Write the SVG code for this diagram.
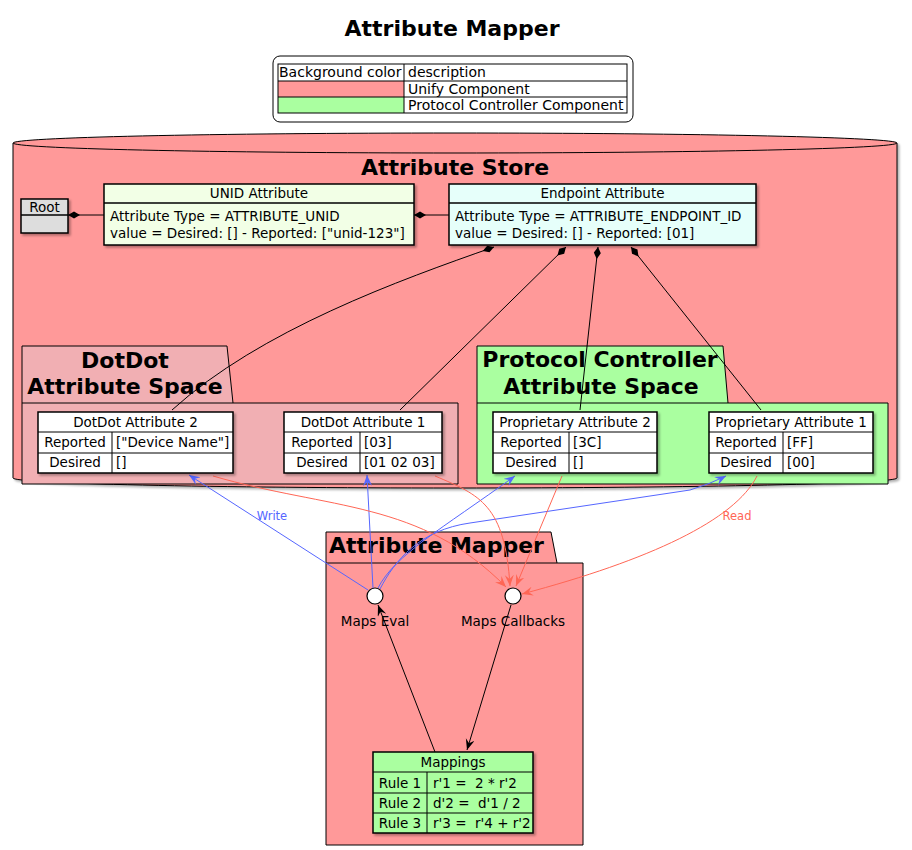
<svg xmlns="http://www.w3.org/2000/svg" width="912" height="850" viewBox="0 0 912 850">
<style>
text{font-family:"DejaVu Sans","Liberation Sans",sans-serif;fill:#000;white-space:pre}
.t{font-size:22px;font-weight:bold}
.n{font-size:13.5px}
.l{font-size:14px}
.c{text-anchor:middle}
.s{font-size:11.5px}
.ln{stroke:#000;stroke-width:1;fill:none}
.blue{stroke:#5566FF;stroke-width:1;fill:none}
.red{stroke:#FF6655;stroke-width:1;fill:none}
.blk{stroke:#000;stroke-width:1;fill:none}
</style>
<defs>
<filter id="sh" x="-5%" y="-5%" width="115%" height="120%">
<feDropShadow dx="2" dy="2" stdDeviation="1.2" flood-color="#000" flood-opacity="0.3"/>
</filter>
<marker id="dia" markerUnits="userSpaceOnUse" markerWidth="14" markerHeight="10" refX="0" refY="4" orient="auto">
<path d="M0,4 L6,0.5 L12,4 L6,7.5 Z" fill="#000"/>
</marker>
<marker id="ab" markerUnits="userSpaceOnUse" markerWidth="13" markerHeight="10" refX="11" refY="4.5" orient="auto">
<path d="M0,0 L11,4.5 L0,9 L4,4.5 Z" fill="#5566FF"/>
</marker>
<marker id="ar" markerUnits="userSpaceOnUse" markerWidth="13" markerHeight="10" refX="11" refY="4.5" orient="auto">
<path d="M0,0 L11,4.5 L0,9 L4,4.5 Z" fill="#FF6655"/>
</marker>
<marker id="ak" markerUnits="userSpaceOnUse" markerWidth="13" markerHeight="10" refX="11" refY="4.5" orient="auto">
<path d="M0,0 L11,4.5 L0,9 L4,4.5 Z" fill="#000"/>
</marker>
</defs>
<rect width="912" height="850" fill="#fff"/>

<text class="t c" x="452" y="36">Attribute Mapper</text>

<g id="legend">
<rect x="273" y="56" width="360" height="66" rx="7" fill="#fff" stroke="#000" stroke-width="1"/>
<rect x="278" y="81" width="126" height="16" fill="#FF9999"/>
<rect x="278" y="97" width="126" height="16" fill="#AAFFA0"/>
<rect x="278" y="64" width="349" height="49" fill="none" stroke="#000" stroke-width="1"/>
<path d="M278,81 H627 M278,97 H627 M404,64 V113" stroke="#000" stroke-width="1"/>
<text class="l" x="279" y="77">Background color</text>
<text class="l" x="408" y="77">description</text>
<text class="l" x="408" y="94">Unify Component</text>
<text class="l" x="408" y="110">Protocol Controller Component</text>
</g>

<g id="attribute-store">
<path d="M13,143 A442,10 0 0 1 897,143 L897,478 A442,10 0 0 1 13,478 Z" fill="#FF9999" stroke="#000" stroke-width="1" filter="url(#sh)"/>
<path d="M13,143 A442,10 0 0 0 897,143" fill="none" stroke="#000" stroke-width="1"/>
<text class="t c" x="455" y="175">Attribute Store</text>
</g>

<g id="dotdot-space">
<path d="M22,346 L227,346 L233,403 L458,403 L458,484 L22,484 Z" fill="#F1AFB3" stroke="#000" stroke-width="1"/>
<path d="M22,403 L233,403" stroke="#000" stroke-width="1"/>
<text class="t c" x="125" y="368">DotDot</text>
<text class="t c" x="125" y="394">Attribute Space</text>
</g>

<g id="pc-space">
<path d="M477,346 L723,346 L728,403 L888,403 L888,484 L477,484 Z" fill="#AAFFA0" stroke="#000" stroke-width="1"/>
<path d="M477,403 L728,403" stroke="#000" stroke-width="1"/>
<text class="t c" x="600" y="367">Protocol Controller</text>
<text class="t c" x="601" y="394">Attribute Space</text>
</g>

<g id="mapper-pkg">
<path d="M326,532 L551,532 L557,563 L583,563 L583,845 L326,845 Z" fill="#FF9999" stroke="#000" stroke-width="1"/>
<path d="M326,563 L557,563" stroke="#000" stroke-width="1"/>
<text class="t" x="329" y="553">Attribute Mapper</text>
</g>

<g id="connectors">
<path class="ln" d="M68,215 L104,215" marker-start="url(#dia)"/>
<path class="ln" d="M414,215 L449,215" marker-start="url(#dia)"/>
<path class="ln" d="M494,247 C400,280 260,330 172,410" marker-start="url(#dia)"/>
<path class="ln" d="M566,247 L400,410" marker-start="url(#dia)"/>
<path class="ln" d="M598,247 L580,410" marker-start="url(#dia)"/>
<path class="ln" d="M631,247 L761,410" marker-start="url(#dia)"/>

<path class="blue" d="M368,590 L189,475" marker-end="url(#ab)"/>
<path class="blue" d="M373,588 L367,475" marker-end="url(#ab)"/>
<path class="blue" d="M378,588 C395,555 440,530 515,476" marker-end="url(#ab)"/>
<path class="blue" d="M380,589 C395,560 420,530 470,523 L690,490 Q710,484 726,476" marker-end="url(#ab)"/>
<text class="s c" x="272" y="520" style="fill:#5566FF">Write</text>

<path class="red" d="M213,476 C330,510 420,500 506,587" marker-end="url(#ar)"/>
<path class="red" d="M435,476 C480,495 505,505 510,586" marker-end="url(#ar)"/>
<path class="red" d="M562,476 L516,586" marker-end="url(#ar)"/>
<path class="red" d="M757,476 C735,520 650,560 522,594" marker-end="url(#ar)"/>
<text class="s c" x="737" y="520" style="fill:#FF6655">Read</text>

<path class="blk" d="M435,752 L378,605" marker-end="url(#ak)"/>
<path class="blk" d="M511,605 L467,750" marker-end="url(#ak)"/>
</g>

<g id="root">
<rect x="21" y="199" width="47" height="34" fill="#DDDDDD" stroke="#000" stroke-width="1.5" filter="url(#sh)"/>
<path d="M21,215 H68" stroke="#000" stroke-width="1.5"/>
<text class="n c" x="44.5" y="212">Root</text>
</g>

<g id="unid-attribute">
<rect x="104" y="184" width="310" height="61" fill="#F2FFE6" stroke="#000" stroke-width="1.5" filter="url(#sh)"/>
<path d="M104,203 H414" stroke="#000" stroke-width="1.5"/>
<text class="n c" x="259" y="198">UNID Attribute</text>
<text class="n" x="110" y="221">Attribute Type = ATTRIBUTE_UNID</text>
<text class="n" x="110" y="238">value = Desired: [] - Reported: ["unid-123"]</text>
</g>

<g id="endpoint-attribute">
<rect x="449" y="184" width="307" height="61" fill="#E6FFFA" stroke="#000" stroke-width="1.5" filter="url(#sh)"/>
<path d="M449,203 H756" stroke="#000" stroke-width="1.5"/>
<text class="n c" x="602.5" y="198">Endpoint Attribute</text>
<text class="n" x="455" y="221">Attribute Type = ATTRIBUTE_ENDPOINT_ID</text>
<text class="n" x="455" y="238">value = Desired: [] - Reported: [01]</text>
</g>

<g id="dotdot-attribute-2">
<rect x="38" y="412" width="195" height="61" fill="#fff" stroke="#000" stroke-width="1.5" filter="url(#sh)"/>
<path d="M38,432 H233 M38,453 H233 M112,432 V473" stroke="#000" stroke-width="1"/>
<text class="n c" x="135.5" y="427">DotDot Attribute 2</text>
<text class="n c" x="75" y="447">Reported</text>
<text class="n" x="116" y="447">["Device Name"]</text>
<text class="n c" x="75" y="467">Desired</text>
<text class="n" x="116" y="467">[]</text>
</g>

<g id="dotdot-attribute-1">
<rect x="284" y="412" width="158" height="61" fill="#fff" stroke="#000" stroke-width="1.5" filter="url(#sh)"/>
<path d="M284,432 H442 M284,453 H442 M360,432 V473" stroke="#000" stroke-width="1"/>
<text class="n c" x="363" y="427">DotDot Attribute 1</text>
<text class="n c" x="322" y="447">Reported</text>
<text class="n" x="364" y="447">[03]</text>
<text class="n c" x="322" y="467">Desired</text>
<text class="n" x="364" y="467">[01 02 03]</text>
</g>

<g id="proprietary-attribute-2">
<rect x="493" y="412" width="164" height="61" fill="#fff" stroke="#000" stroke-width="1.5" filter="url(#sh)"/>
<path d="M493,432 H657 M493,453 H657 M569,432 V473" stroke="#000" stroke-width="1"/>
<text class="n c" x="575" y="427">Proprietary Attribute 2</text>
<text class="n c" x="531" y="447">Reported</text>
<text class="n" x="573" y="447">[3C]</text>
<text class="n c" x="531" y="467">Desired</text>
<text class="n" x="573" y="467">[]</text>
</g>

<g id="proprietary-attribute-1">
<rect x="709" y="412" width="164" height="61" fill="#fff" stroke="#000" stroke-width="1.5" filter="url(#sh)"/>
<path d="M709,432 H873 M709,453 H873 M783,432 V473" stroke="#000" stroke-width="1"/>
<text class="n c" x="791" y="427">Proprietary Attribute 1</text>
<text class="n c" x="746" y="447">Reported</text>
<text class="n" x="787" y="447">[FF]</text>
<text class="n c" x="746" y="467">Desired</text>
<text class="n" x="787" y="467">[00]</text>
</g>

<g id="maps-eval">
<circle cx="375" cy="596" r="8" fill="#fff" stroke="#000" stroke-width="1.2"/>
<text class="n c" x="375" y="626">Maps Eval</text>
</g>

<g id="maps-callbacks">
<circle cx="513" cy="596" r="8" fill="#fff" stroke="#000" stroke-width="1.2"/>
<text class="n c" x="513" y="626">Maps Callbacks</text>
</g>

<g id="mappings">
<rect x="373" y="752" width="160" height="81" fill="#AAFFA0" stroke="#000" stroke-width="1.5" filter="url(#sh)"/>
<path d="M373,772 H533 M373,793 H533 M373,813 H533 M427,772 V833" stroke="#000" stroke-width="1"/>
<text class="n c" x="453" y="767">Mappings</text>
<text class="n c" x="400" y="788">Rule 1</text>
<text class="n" x="433" y="788">r'1 =  2 * r'2</text>
<text class="n c" x="400" y="808">Rule 2</text>
<text class="n" x="433" y="808">d'2 =  d'1 / 2</text>
<text class="n c" x="400" y="828">Rule 3</text>
<text class="n" x="433" y="828">r'3 =  r'4 + r'2</text>
</g>
</svg>
